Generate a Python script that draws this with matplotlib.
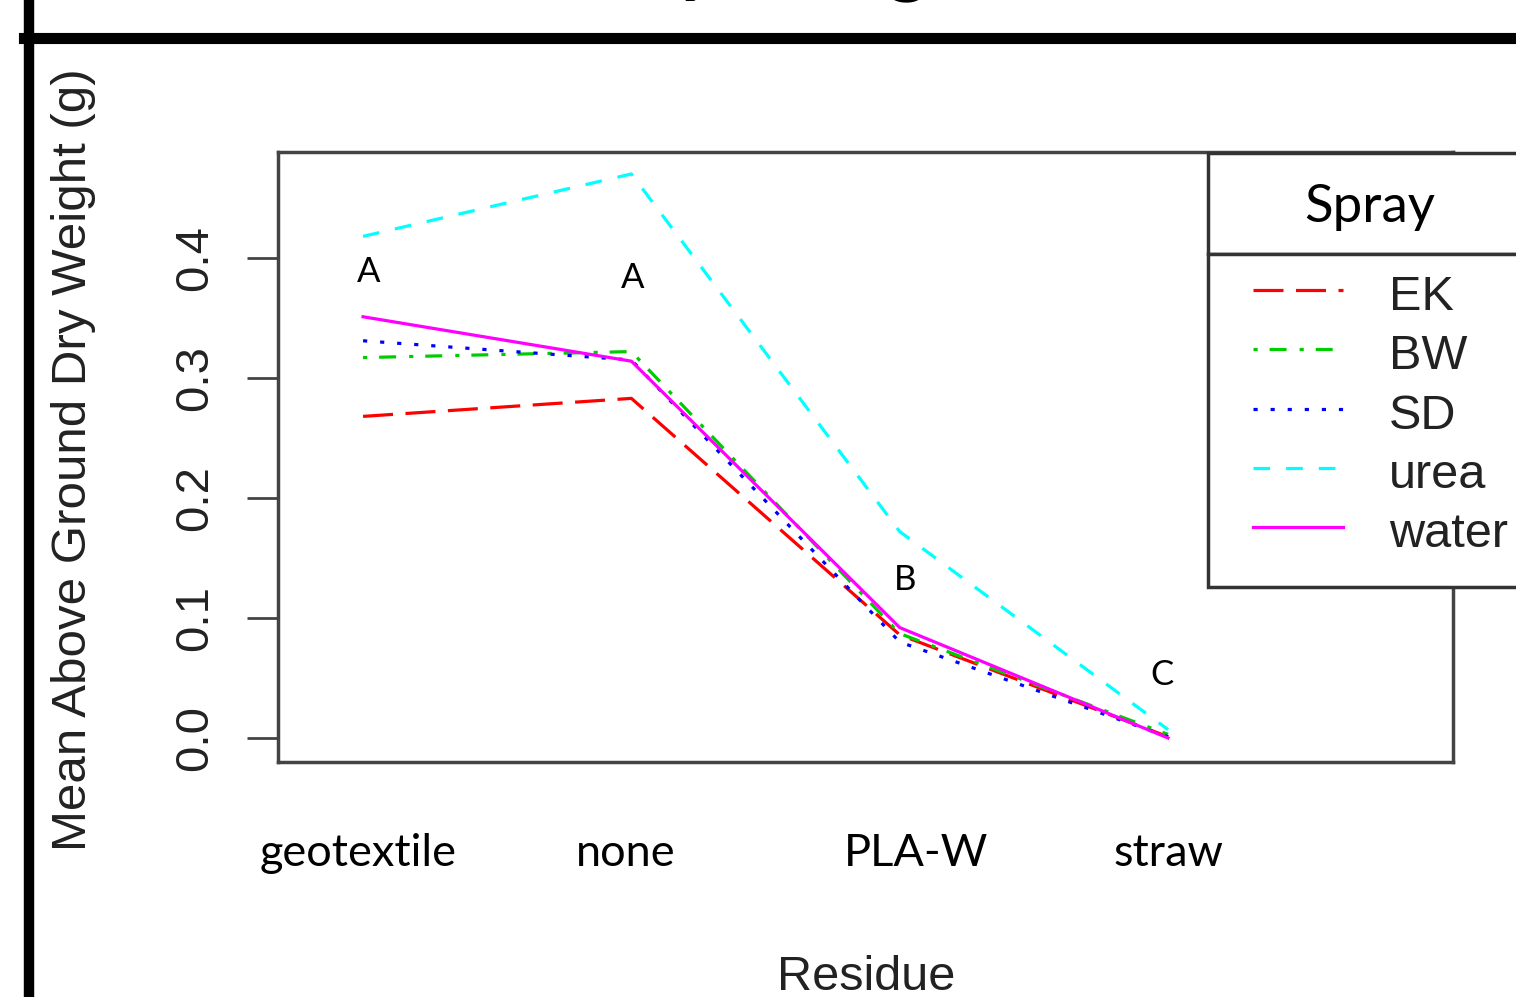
import numpy as np
import matplotlib
matplotlib.use("Agg")
import matplotlib.pyplot as plt
from matplotlib import transforms
from matplotlib.patches import Rectangle
from matplotlib.lines import Line2D

# data
residues = ["geotextile", "none", "PLA-W", "straw"]
sprays = ["EK", "BW", "SD", "urea", "water"]
ek = [0.268, 0.283, 0.086, 0.001]
bw = [0.317, 0.322, 0.087, 0.003]
sd = [0.331, 0.315, 0.080, 0.001]
urea = [0.418, 0.470, 0.172, 0.007]
water = [0.351, 0.314, 0.092, 0.000]
groups = ["A", "A", "B", "C"]
group_y = [0.388, 0.383, 0.132, 0.0525]
yticks = [0.0, 0.1, 0.2, 0.3, 0.4]

colors = ["#FF0000", "#00CD00", "#0000FF", "#00FFFF", "#FF00FF"]
styles = [(0, (21.6, 9.0)), (0, (3.0, 8.6, 12.2, 9.4)), (0, (3.0, 9.3)), (0, (12.0, 11.5)), "-"]

plt.rcParams["lines.scale_dashes"] = False
rfont = "Liberation Sans"
cfont = "Lato"

W, H = 1516, 997
def fx(p):
    return p / W
def fy(p):
    return 1 - p / H

fig = plt.figure(figsize=(W / 100, H / 100), dpi=100)
ax = fig.add_axes([fx(278), fy(762), fx(1453 - 278), (762 - 152) / H])

x = np.arange(1, len(residues) + 1)
for vals, col, ls in zip([ek, bw, sd, urea, water], colors, styles):
    ax.plot(x, vals, color=col, linestyle=ls, lw=2.3)

ax.set_xlim(0.683, 5.062)
ax.set_ylim(-0.02, 0.4883)
ax.set_xticks([])
ax.set_yticks(yticks)
ax.set_yticklabels(["%.1f" % v for v in yticks], rotation=90, va="center",
                   fontsize=34, family=rfont, color="#222222")
ax.tick_params(axis="y", length=22, width=2, color="#444444", pad=22)
for s in ax.spines.values():
    s.set_color("#444444")
    s.set_linewidth(2.5)

# group letters
letter_x = [1.022, 2.004, 3.02, 3.978]
for gx, gy, g in zip(letter_x, group_y, groups):
    ax.text(gx, gy, g, ha="center", va="center", fontsize=25, family=cfont)

# residue labels
label_x = [0.981, 1.98, 3.06, 4.0]
trans = transforms.blended_transform_factory(ax.transData, fig.transFigure)
for lx, lab in zip(label_x, residues):
    ax.text(lx, fy(866), lab, transform=trans, ha="center", va="baseline",
            fontsize=32.5, family=cfont, clip_on=False)

fig.text(fx(866), fy(990), "Residue", ha="center", va="baseline",
         fontsize=35, family=rfont, color="#222222")
fig.text(fx(74), fy(460), "Mean Above Ground Dry Weight (g)", rotation=90,
         ha="center", va="center", fontsize=35.5, family=rfont, color="#222222")

# legend drawn by hand
fig.add_artist(Rectangle((fx(1208), fy(254)), fx(400), (254 - 153) / H, transform=fig.transFigure,
                         facecolor="white", edgecolor="#333333", lw=2.5, zorder=5))
fig.add_artist(Rectangle((fx(1208), fy(587)), fx(400), (587 - 254) / H, transform=fig.transFigure,
                         facecolor="white", edgecolor="#333333", lw=2.5, zorder=5))
fig.text(fx(1370), fy(222), "Spray", ha="center", va="baseline", fontsize=38,
         family=cfont, zorder=6)
for i, (name, col, ls) in enumerate(zip(sprays, colors, styles)):
    base = 310 + i * 59.3
    fig.add_artist(Line2D([fx(1253), fx(1343)], [fy(base - 20), fy(base - 20)], transform=fig.transFigure,
                          color=col, linestyle=ls, lw=2.3, zorder=6))
    fig.text(fx(1389), fy(base), name, ha="left", va="baseline", fontsize=35,
             family=rfont, color="#222222", zorder=6)

# frame lines and cut-off title
fig.add_artist(Line2D([fx(28.5), fx(28.5)], [0, 1], transform=fig.transFigure, color="black", lw=7.5))
fig.add_artist(Line2D([fx(24), 1], [fy(38.5), fy(38.5)], transform=fig.transFigure, color="black", lw=8))
fig.text(fx(585), 1 + 14 / H, "Dry Weight,", ha="left", va="baseline", fontsize=58,
         fontweight="bold", family=cfont)

fig.savefig("out.png", dpi=100)
